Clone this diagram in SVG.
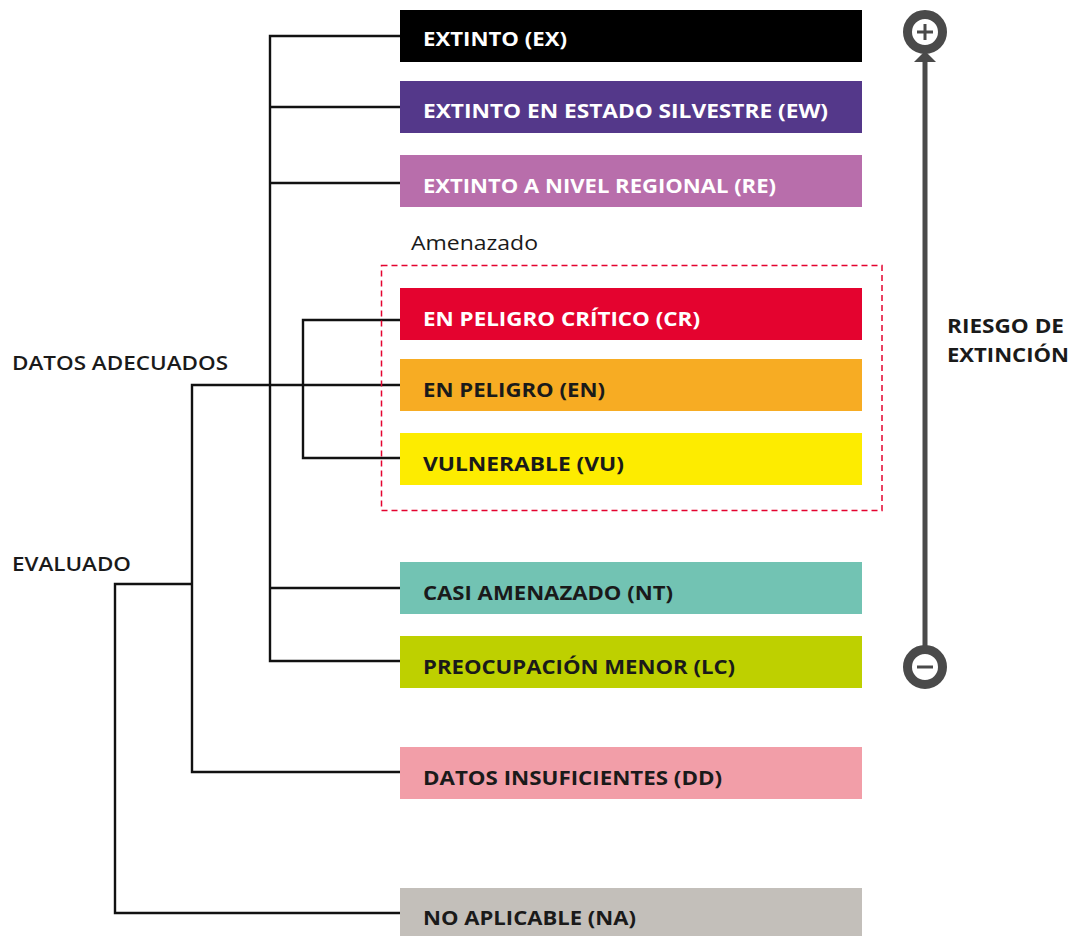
<svg xmlns="http://www.w3.org/2000/svg" width="1071" height="936" viewBox="0 0 1071 936">
<style>
.lbl{font-family:"Open Sans","Liberation Sans",sans-serif;font-weight:bold;font-size:20px}
.w{fill:#ffffff}.d{fill:#1a1a1a}
.side{font-family:"Open Sans","Liberation Sans",sans-serif;font-size:20px;fill:#1a1a1a;font-weight:600}
.ln{fill:none;stroke:#111;stroke-width:2.4}
</style>
<rect width="1071" height="936" fill="#fff"/>
<g id="connectors">
<path class="ln" d="M400,36 H270 V661 H400 M270,107 H400 M270,183 H400 M270,588 H400"/>
<path class="ln" d="M400,320 H303 V458 H400"/>
<path class="ln" d="M400,385 H192 V772 H400"/>
<path class="ln" d="M192,584 H115 V913 H400"/>
</g>
<g id="threatened-group">
<rect x="381.5" y="265.5" width="500.5" height="245" fill="none" stroke="#e4032f" stroke-width="1.5" stroke-dasharray="6,4"/>
<text x="411" y="250" class="side" style="font-weight:500" textLength="127" lengthAdjust="spacingAndGlyphs">Amenazado</text>
</g>
<g id="ex"><rect x="400" y="10" width="462" height="52" fill="#000"/><text x="423" y="46" class="lbl w" textLength="144" lengthAdjust="spacingAndGlyphs">EXTINTO (EX)</text></g>
<g id="ew"><rect x="400" y="81" width="462" height="52" fill="#54388a"/><text x="423" y="118" class="lbl w" textLength="405" lengthAdjust="spacingAndGlyphs">EXTINTO EN ESTADO SILVESTRE (EW)</text></g>
<g id="re"><rect x="400" y="155" width="462" height="52" fill="#b86eab"/><text x="423" y="193" class="lbl w" textLength="353" lengthAdjust="spacingAndGlyphs">EXTINTO A NIVEL REGIONAL (RE)</text></g>
<g id="cr"><rect x="400" y="288" width="462" height="52" fill="#e4032f"/><text x="423" y="326" class="lbl w" textLength="277" lengthAdjust="spacingAndGlyphs">EN PELIGRO CRÍTICO (CR)</text></g>
<g id="en"><rect x="400" y="359" width="462" height="52" fill="#f7ac23"/><text x="423" y="397" class="lbl d" textLength="182" lengthAdjust="spacingAndGlyphs">EN PELIGRO (EN)</text></g>
<g id="vu"><rect x="400" y="433" width="462" height="52" fill="#fdec00"/><text x="423" y="471" class="lbl d" textLength="201" lengthAdjust="spacingAndGlyphs">VULNERABLE (VU)</text></g>
<g id="nt"><rect x="400" y="562" width="462" height="52" fill="#72c3b3"/><text x="423" y="600" class="lbl d" textLength="250" lengthAdjust="spacingAndGlyphs">CASI AMENAZADO (NT)</text></g>
<g id="lc"><rect x="400" y="636" width="462" height="52" fill="#bed000"/><text x="423" y="674" class="lbl d" textLength="312" lengthAdjust="spacingAndGlyphs">PREOCUPACIÓN MENOR (LC)</text></g>
<g id="dd"><rect x="400" y="747" width="462" height="52" fill="#f29ea8"/><text x="423" y="785" class="lbl d" textLength="299" lengthAdjust="spacingAndGlyphs">DATOS INSUFICIENTES (DD)</text></g>
<g id="na"><rect x="400" y="888" width="462" height="48" fill="#c3bfba"/><text x="423" y="925" class="lbl d" textLength="213" lengthAdjust="spacingAndGlyphs">NO APLICABLE (NA)</text></g>
<g id="datos-adecuados"><text x="12" y="370" class="side" textLength="216" lengthAdjust="spacingAndGlyphs">DATOS ADECUADOS</text></g>
<g id="evaluado"><text x="12" y="571" class="side" textLength="119" lengthAdjust="spacingAndGlyphs">EVALUADO</text></g>
<g id="risk-axis">
<line x1="925" y1="58" x2="925" y2="650" stroke="#4a4a4a" stroke-width="5"/>
<polygon points="914,62 936,62 925,51" fill="#4a4a4a"/>
<circle cx="925" cy="32" r="17.5" fill="#fff" stroke="#4a4a4a" stroke-width="9"/>
<path d="M917,32 H933 M925,24 V40" stroke="#4a4a4a" stroke-width="3"/>
<circle cx="925" cy="667" r="17.5" fill="#fff" stroke="#4a4a4a" stroke-width="9"/>
<path d="M917,667 H933" stroke="#4a4a4a" stroke-width="3"/>
<text x="947" y="333" class="lbl d" textLength="117" lengthAdjust="spacingAndGlyphs">RIESGO DE</text>
<text x="947" y="362" class="lbl d" textLength="122" lengthAdjust="spacingAndGlyphs">EXTINCIÓN</text>
</g>
</svg>
